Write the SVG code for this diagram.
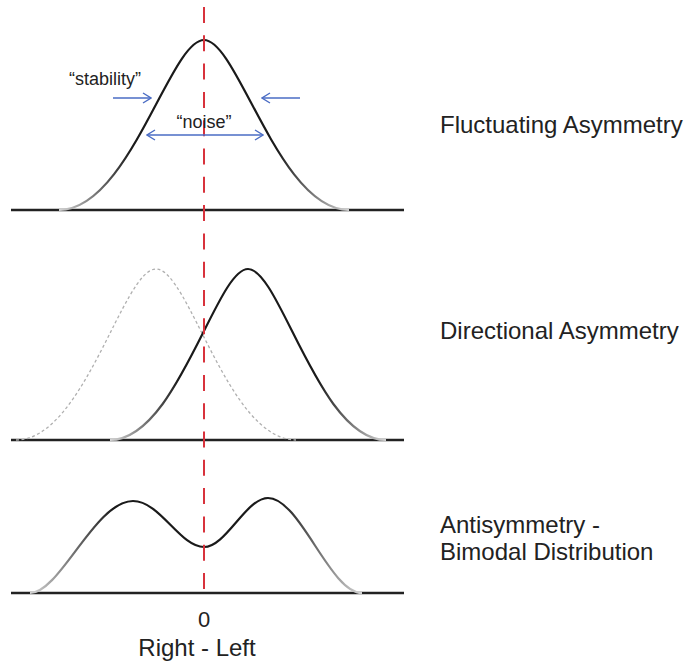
<svg xmlns="http://www.w3.org/2000/svg" width="699" height="663" viewBox="0 0 699 663">
  <defs>
    <linearGradient id="fade" x1="0" y1="0" x2="1" y2="0">
      <stop offset="0" stop-color="#d4d4d4"/>
      <stop offset="0.25" stop-color="#1a1a1a"/>
      <stop offset="0.75" stop-color="#1a1a1a"/>
      <stop offset="1" stop-color="#d4d4d4"/>
    </linearGradient>
    <marker id="head" viewBox="0 0 10 12" refX="9" refY="6" markerWidth="10" markerHeight="12" markerUnits="userSpaceOnUse" orient="auto-start-reverse">
      <path d="M1,1 L9,6 L1,11" fill="none" stroke="#4a6cc4" stroke-width="1.4"/>
    </marker>
    <style>
      .axis { stroke: #222; stroke-width: 2.5; fill: none; }
      .curve { stroke: url(#fade); stroke-width: 2.2; fill: none; }
      .ghost { stroke: #b0b0b0; stroke-width: 1.3; stroke-dasharray: 3 2.5; fill: none; }
      .zero { stroke: #d8323c; stroke-width: 2; stroke-dasharray: 16 12.3; fill: none; }
      .arrow { stroke: #4a6cc4; stroke-width: 1.4; fill: none; }
      .lbl { font-family: "Liberation Sans", Arial, sans-serif; fill: #222; }
      .big { font-size: 24px; }
      .small { font-size: 18px; }
    </style>
  </defs>

  <g id="axes">
    <line class="axis" x1="11" y1="210" x2="404" y2="210"/>
    <line class="axis" x1="11" y1="440" x2="404" y2="440"/>
    <line class="axis" x1="11" y1="593" x2="404" y2="593"/>
  </g>

  <g id="fluctuating">
    <path class="curve" d="M59,210 C129,210 170,40 204,40 C238,40 279,210 349,210"/>
    <text class="lbl big" x="440" y="133">Fluctuating Asymmetry</text>
  </g>

  <g id="directional">
    <path class="ghost" d="M16,440 C84,440 123,269 156,269 C189,269 228,440 296,440"/>
    <path class="curve" d="M110,440 C177,440 216,269 248,269 C280,269 319,440 386,440"/>
    <text class="lbl big" x="440" y="339">Directional Asymmetry</text>
  </g>

  <g id="antisymmetry">
    <path class="curve" d="M30,593 C60,593 95,501 133,501 C160,501 180,547 204,547 C226,547 246,498 268,498 C300,498 330,593 362,593"/>
    <text class="lbl big" x="440" y="533">Antisymmetry -</text>
    <text class="lbl big" x="440" y="560">Bimodal Distribution</text>
  </g>

  <g id="zero-line">
    <line class="zero" x1="204" y1="7" x2="204" y2="589"/>
  </g>

  <g id="connectors">
    <line class="arrow" x1="113" y1="98" x2="151" y2="98" marker-end="url(#head)"/>
    <line class="arrow" x1="300" y1="98" x2="262" y2="98" marker-end="url(#head)"/>
    <line class="arrow" x1="147" y1="135" x2="263" y2="135" marker-start="url(#head)" marker-end="url(#head)"/>
  </g>

  <g id="annotations">
    <text class="lbl small" x="105" y="85" text-anchor="middle">“stability”</text>
    <text class="lbl small" x="204" y="128" text-anchor="middle">“noise”</text>
    <text class="lbl" font-size="22" x="204" y="627" text-anchor="middle">0</text>
    <text class="lbl big" x="197" y="656" text-anchor="middle">Right - Left</text>
  </g>
</svg>
